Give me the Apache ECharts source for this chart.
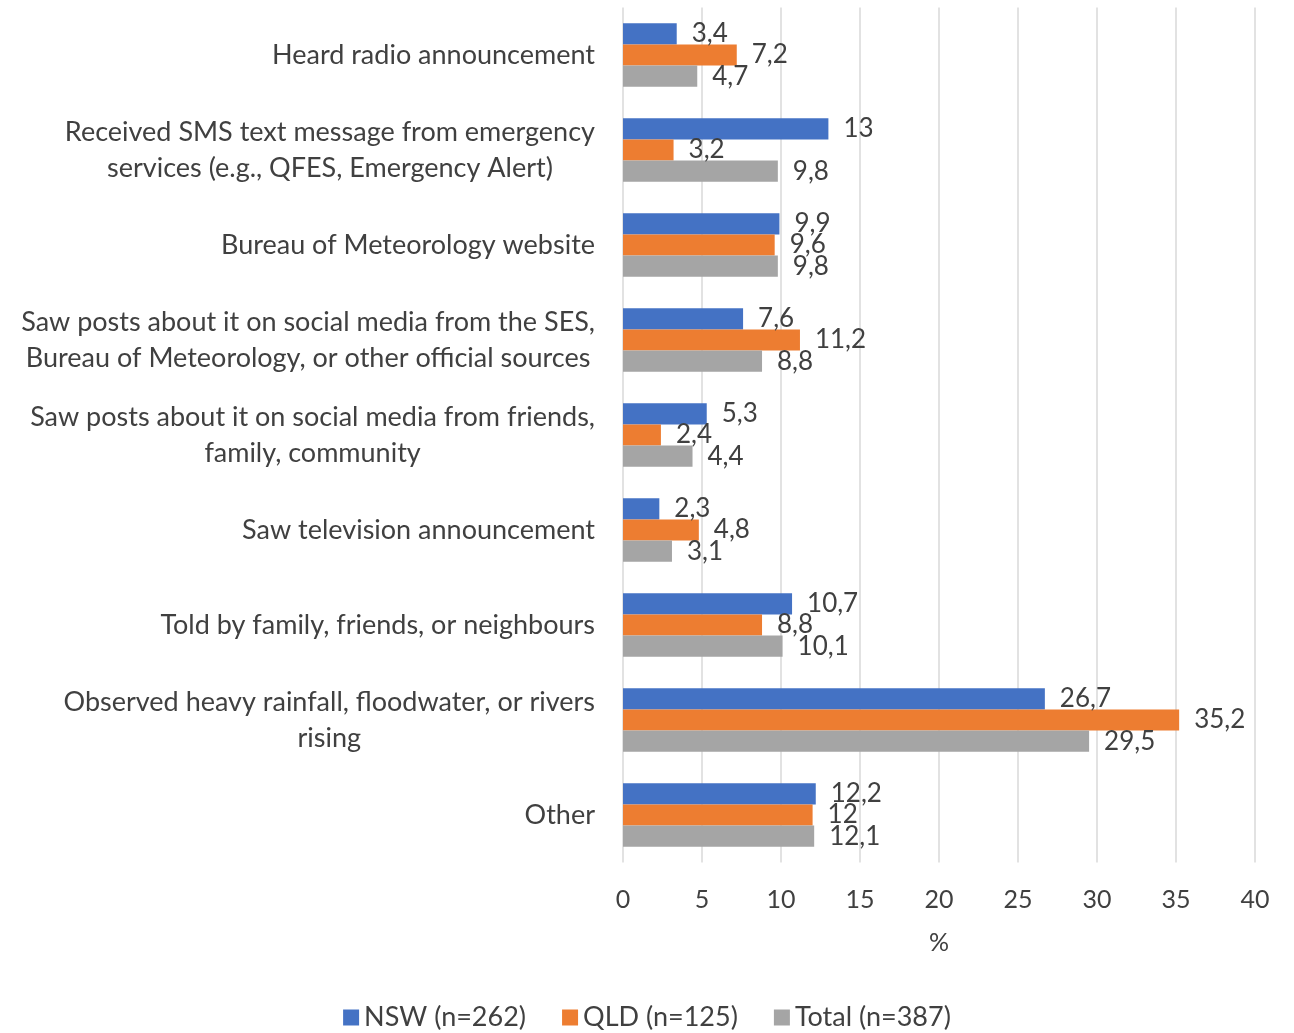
<!DOCTYPE html>
<html>
<head>
<meta charset="utf-8">
<script src="https://cdn.jsdelivr.net/npm/echarts@6/dist/echarts.min.js"></script>
<style>
  html, body { margin: 0; padding: 0; background: #fff; }
  #chart { width: 1294px; height: 1033px; }
</style>
</head>
<body>
<div id="chart"></div>
<script>
// categories, top to bottom
var categories = [
  'Heard radio announcement',
  'Received SMS text message from emergency\nservices (e.g., QFES, Emergency Alert)',
  'Bureau of Meteorology website',
  'Saw posts about it on social media from the SES,\nBureau of Meteorology, or other official sources',
  'Saw posts about it on social media from friends,\nfamily, community',
  'Saw television announcement',
  'Told by family, friends, or neighbours',
  'Observed heavy rainfall, floodwater, or rivers\nrising',
  'Other'
];
var nswValues = [3.4, 13, 9.9, 7.6, 5.3, 2.3, 10.7, 26.7, 12.2];
var qldValues = [7.2, 3.2, 9.6, 11.2, 2.4, 4.8, 8.8, 35.2, 12];
var totalValues = [4.7, 9.8, 9.8, 8.8, 4.4, 3.1, 10.1, 29.5, 12.1];
var seriesNames = ['NSW (n=262)', 'QLD (n=125)', 'Total (n=387)'];
var xTicks = [0, 5, 10, 15, 20, 25, 30, 35, 40];

var FONT = 'Lato';
var TXT = '#404040';

var chart = echarts.init(document.getElementById('chart'));

// bar value label with decimal comma
function barLabel() {
  return {
    show: true,
    position: 'right',
    distance: 15,
    fontFamily: FONT,
    fontSize: 26,
    color: TXT,
    formatter: function (p) { return String(p.value).replace('.', ','); }
  };
}

var option = {
  animation: false,
  textStyle: { fontFamily: FONT },
  color: ['#4472C4', '#ED7D31', '#A5A5A5'],
  grid: { left: 623, right: 39, top: 7.5, bottom: 170.5, containLabel: false },
  legend: {
    bottom: -3,
    left: 'center',
    itemWidth: 16,
    itemHeight: 16,
    itemGap: 36,
    icon: 'rect',
    textStyle: { fontFamily: FONT, fontSize: 27, color: TXT },
    data: seriesNames
  },
  xAxis: {
    type: 'value',
    min: xTicks[0],
    max: xTicks[xTicks.length - 1],
    interval: 5,
    name: '%',
    nameLocation: 'middle',
    nameGap: 68,
    nameTextStyle: { fontFamily: FONT, fontSize: 25, color: TXT },
    axisLine: { show: false },
    axisTick: { show: false },
    axisLabel: { margin: 25, fontFamily: FONT, fontSize: 25, color: TXT },
    splitLine: { show: true, lineStyle: { color: '#D9D9D9', width: 1.5 } }
  },
  yAxis: {
    type: 'category',
    inverse: true,
    data: categories,
    axisLine: { show: false },
    axisTick: { show: false },
    axisLabel: {
      margin: 28,
      align: 'right',
      color: TXT,
      fontFamily: FONT,
      fontSize: 27,
      lineHeight: 36,
      formatter: function (v) {
        return v.split('\n').map(function (s) { return '{c|' + s + '}'; }).join('\n');
      },
      rich: {
        c: { align: 'center', fontFamily: FONT, fontSize: 27, lineHeight: 36, color: TXT }
      }
    }
  },
  series: [
    { name: seriesNames[0], type: 'bar', data: nswValues, barGap: '0%', barCategoryGap: '33%', label: barLabel() },
    { name: seriesNames[1], type: 'bar', data: qldValues, barGap: '0%', barCategoryGap: '33%', label: barLabel() },
    { name: seriesNames[2], type: 'bar', data: totalValues, barGap: '0%', barCategoryGap: '33%', label: barLabel() }
  ]
};

chart.setOption(option);
</script>
</body>
</html>
